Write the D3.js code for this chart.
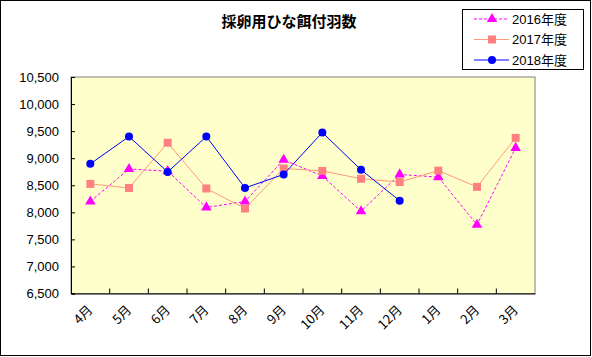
<!DOCTYPE html>
<html><head><meta charset="utf-8">
<script src="https://cdn.jsdelivr.net/npm/d3@7"></script>
<style>body{margin:0;background:#fff}svg{display:block}</style>
</head><body><svg id="c" width="592" height="357"></svg>
<script>
const title = "採卵用ひな餌付羽数";
const months = ["4月","5月","6月","7月","8月","9月","10月","11月","12月","1月","2月","3月"];
const seriesNames = ["2016年度","2017年度","2018年度"];
const v2016 = [8200,8800,8760,8090,8200,8970,8670,8020,8700,8650,7770,9190];
const v2017 = [8525,8450,9285,8440,8070,8810,8765,8620,8560,8770,8470,9375];
const v2018 = [8895,9400,8745,9400,8450,8700,9475,8785,8215];
const yTicks = [6500,7000,7500,8000,8500,9000,9500,10000,10500];

const svg = d3.select("#c");
const L=71, R=535, T=77, B=293.5;
const x = d3.scaleBand().domain(months).range([L,R]);
const y = d3.scaleLinear().domain([6500,10500]).range([B,T]);

svg.append("rect").attr("x",0.5).attr("y",0.5).attr("width",590).attr("height",355)
  .attr("fill","#fff").attr("stroke","#000");

svg.append("rect").attr("x",L).attr("y",T).attr("width",R-L).attr("height",B-T)
  .attr("fill","#FFFFCC").attr("stroke","#808080");

svg.append("text").attr("x",289).attr("y",27).attr("text-anchor","middle")
  .attr("font-family","'Noto Sans CJK JP'").attr("font-weight","bold").attr("font-size",15)
  .text(title);

// y axis
const ya = svg.append("g").attr("transform",`translate(${L},0)`)
  .call(d3.axisLeft(y).tickValues(yTicks).tickSize(-4).tickPadding(12).tickFormat(d3.format(",")));
ya.select(".domain").attr("stroke","#000");
ya.selectAll("text").attr("font-family","'Liberation Sans',Arial").attr("font-size",13).attr("fill","#000");

// x axis
const xa = svg.append("g").attr("transform",`translate(0,${B})`)
  .call(d3.axisBottom(x).tickSize(0).tickFormat(""));
xa.select(".domain").attr("stroke","#000");
xa.selectAll(".bnd").data(months.slice(1)).enter().append("line")
  .attr("x1",d=>x(d)).attr("x2",d=>x(d)).attr("y1",0).attr("y2",-5).attr("stroke","#000");
xa.selectAll(".lbl").data(months).enter().append("text")
  .attr("transform",d=>`translate(${x(d)+x.bandwidth()/2},${14}) rotate(-45)`)
  .attr("text-anchor","end").attr("dy","0.35em")
  .attr("font-family","'Noto Sans CJK JP'").attr("font-size",13).attr("fill","#000").text(d=>d);

const cx = i => x(months[i]) + x.bandwidth()/2;
const line = d3.line().x((d,i)=>cx(i)).y(d=>y(d));

const specs = [
  {name:seriesNames[0], data:v2016, color:"#FF00FF", lineColor:"#FF00FF", dash:"3,2", marker:"tri"},
  {name:seriesNames[1], data:v2017, color:"#FF8080", lineColor:"#FF9977", dash:null, marker:"sq"},
  {name:seriesNames[2], data:v2018, color:"#0000FF", lineColor:"#0000FF", dash:null, marker:"circ"},
];
function marker(g, type, color, px, py){
  if(type==="tri") g.append("path").attr("d",d3.symbol(d3.symbolTriangle,48)()).attr("transform",`translate(${px},${py})`).attr("fill",color);
  else if(type==="sq") g.append("rect").attr("x",px-4).attr("y",py-4).attr("width",8).attr("height",8).attr("fill",color);
  else g.append("circle").attr("cx",px).attr("cy",py).attr("r",4).attr("fill",color);
}
specs.forEach(s=>{
  const g = svg.append("g");
  g.append("path").attr("d",line(s.data)).attr("fill","none").attr("stroke",s.lineColor)
    .attr("stroke-width",1).attr("stroke-dasharray",s.dash);
  s.data.forEach((d,i)=>marker(g,s.marker,s.color,cx(i),y(d)));
});

// legend
const lg = svg.append("g");
lg.append("rect").attr("x",462.5).attr("y",9.5).attr("width",121).attr("height",60)
  .attr("fill","#fff").attr("stroke","#000");
specs.forEach((s,i)=>{
  const ly = 19 + i*20.5;
  lg.append("line").attr("x1",474).attr("x2",509).attr("y1",ly).attr("y2",ly)
    .attr("stroke",s.lineColor).attr("stroke-dasharray",s.dash);
  marker(lg,s.marker,s.color,492,ly);
  lg.append("text").attr("x",512).attr("y",ly).attr("dy","0.36em")
    .attr("font-family","'Liberation Sans','Noto Sans CJK JP'").attr("font-size",13).text(s.name);
});
</script></body></html>
